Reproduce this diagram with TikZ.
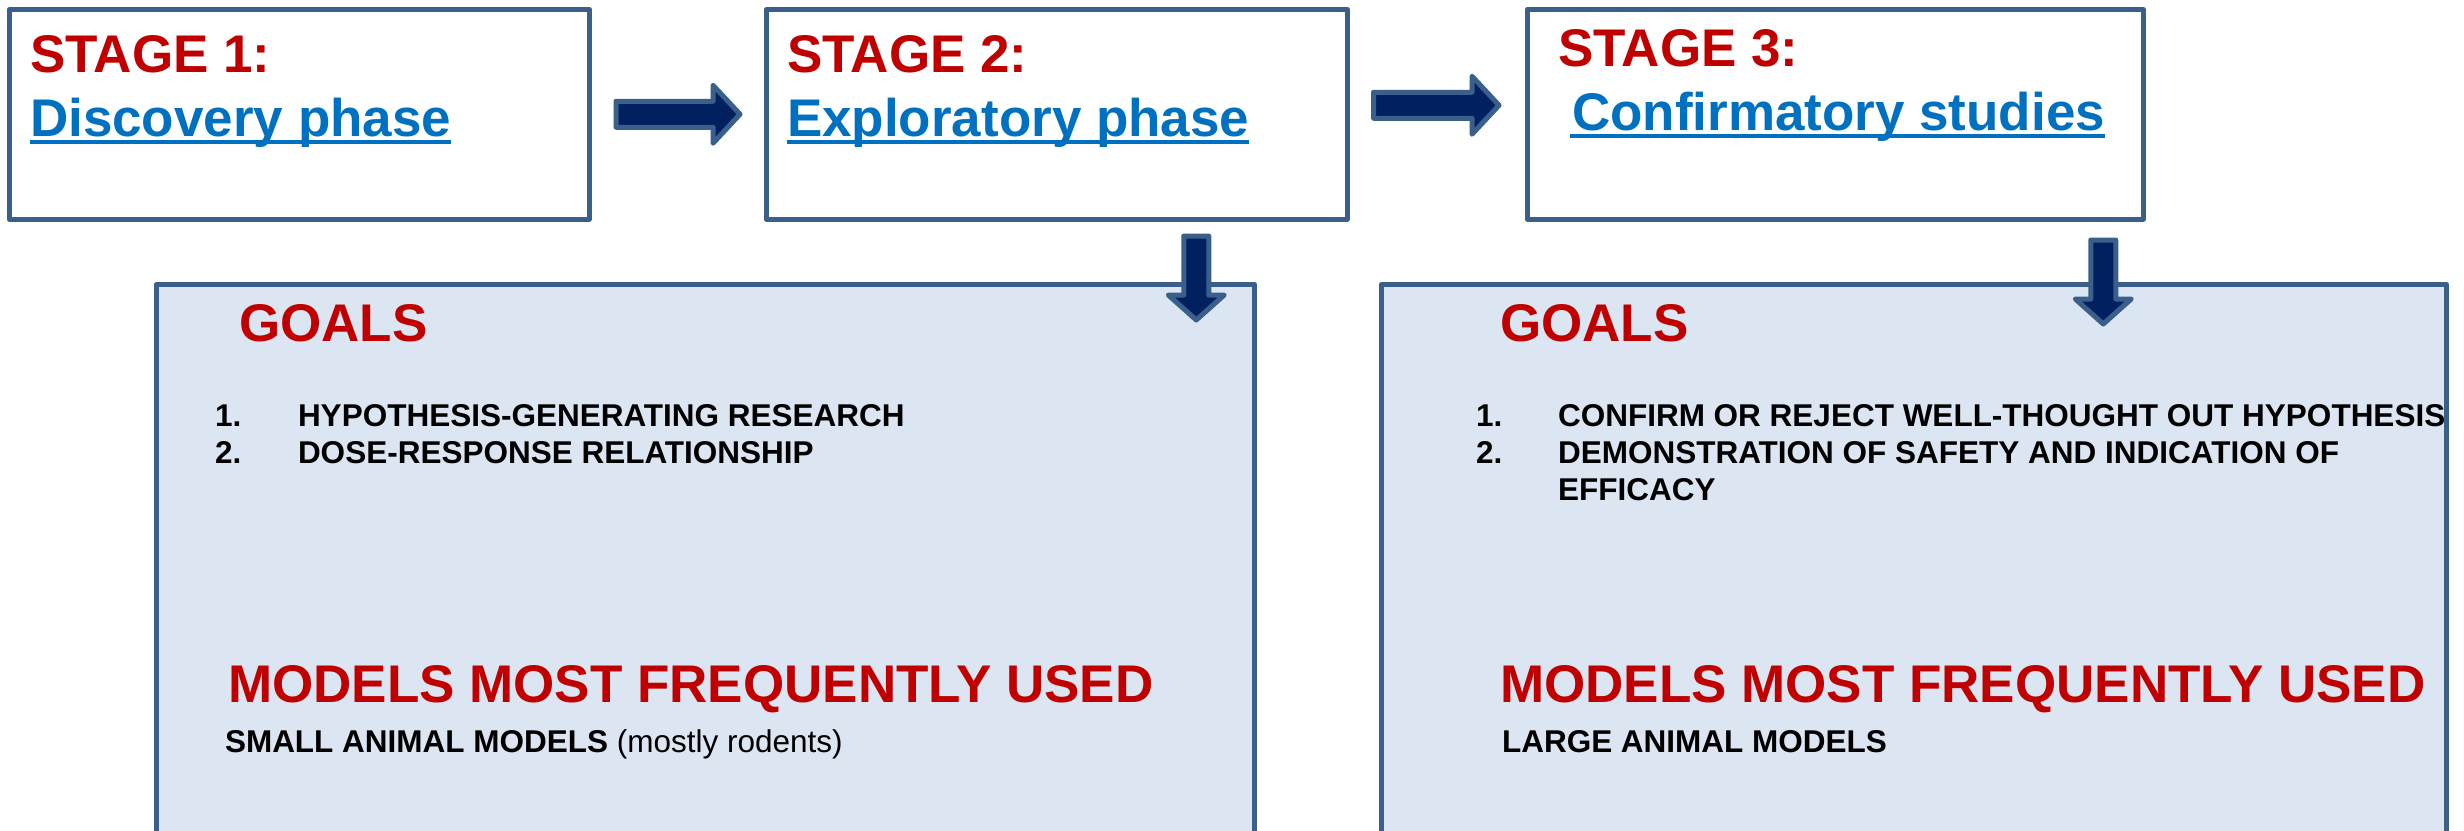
\documentclass[tikz,border=0pt]{standalone}
\usepackage{fontspec}
\setmainfont{Liberation Sans}
\usetikzlibrary{calc}
\definecolor{edge}{HTML}{3A5F8B}
\definecolor{navy}{HTML}{002060}
\definecolor{hred}{HTML}{C00000}
\definecolor{hblue}{HTML}{0070C0}
\definecolor{pale}{HTML}{DCE6F2}
\begin{document}
\begin{tikzpicture}[x=1pt,y=-1pt,
  stagebox/.style={draw=edge, line width=4.5pt, fill=white, line join=round, inner sep=0pt, anchor=north west},
  goalbox/.style={draw=edge, line width=4.5pt, fill=pale, line join=round, inner sep=0pt, anchor=north west},
  blockarrow/.style={draw=edge, line width=5pt, fill=navy, line join=round},
  txt/.style={anchor=base west, inner sep=0pt, outer sep=0pt},
  big/.style={txt, font=\fontsize{53}{60}\selectfont\bfseries, text=hred},
  link/.style={txt, font=\fontsize{53}{60}\selectfont\bfseries, text=hblue},
  small/.style={txt, font=\fontsize{31.5}{37}\selectfont\bfseries, text=black},
  uline/.style={hblue, line width=4pt}
]
\useasboundingbox (0,0) rectangle (2464,830);
\clip (0,0) rectangle (2464,830);
\fill[white] (0,0) rectangle (2464,830);

% stage boxes
\node[stagebox, minimum width=580pt, minimum height=210pt] (s1) at (7,7) {};
\node[stagebox, minimum width=581pt, minimum height=210pt] (s2) at (764,7) {};
\node[stagebox, minimum width=616pt, minimum height=210pt] (s3) at (1525,7) {};

% goal boxes
\node[goalbox, minimum width=1098pt, minimum height=580pt] (g1) at (154,282) {};
\node[goalbox, minimum width=1065pt, minimum height=580pt] (g2) at (1379,282) {};

% right block arrows
\coordinate (a1s) at ($(s1.east)+(24.5,0)$);
\coordinate (a1e) at ($(s2.west)+(-24,0)$);
\draw[blockarrow] ($(a1s)+(0,-13)$) -- ($(a1e)+(-27,-13)$) -- ($(a1e)+(-27,-29)$) -- (a1e)
  -- ($(a1e)+(-27,29)$) -- ($(a1e)+(-27,13)$) -- ($(a1s)+(0,13)$) -- cycle;

\coordinate (a2s) at ($(s2.east)+(24,-9)$);
\coordinate (a2e) at ($(s3.west)+(-26,-9)$);
\draw[blockarrow] ($(a2s)+(0,-13)$) -- ($(a2e)+(-27,-13)$) -- ($(a2e)+(-27,-29)$) -- (a2e)
  -- ($(a2e)+(-27,29)$) -- ($(a2e)+(-27,13)$) -- ($(a2s)+(0,13)$) -- cycle;

% down block arrows
\coordinate (d1s) at ($(s2.south)+(139.5,14.5)$);
\coordinate (d1e) at ($(d1s)+(0,84)$);
\draw[blockarrow] ($(d1s)+(-12.5,0)$) -- ($(d1e)+(-12.5,-25)$) -- ($(d1e)+(-28,-25)$) -- (d1e)
  -- ($(d1e)+(28,-25)$) -- ($(d1e)+(12.5,-25)$) -- ($(d1s)+(12.5,0)$) -- cycle;

\coordinate (d2s) at ($(s3.south)+(268,18.5)$);
\coordinate (d2e) at ($(d2s)+(0,84)$);
\draw[blockarrow] ($(d2s)+(-12.5,0)$) -- ($(d2e)+(-12.5,-25)$) -- ($(d2e)+(-28,-25)$) -- (d2e)
  -- ($(d2e)+(28,-25)$) -- ($(d2e)+(12.5,-25)$) -- ($(d2s)+(12.5,0)$) -- cycle;

% stage texts
\node[big] (st1) at (30,72) {STAGE 1:};
\node[link] (ph1) at (30,136) {Discovery phase};
\draw[uline] ($(ph1.base west)+(0,6)$) -- ($(ph1.base east)+(0,6)$);

\node[big] (st2) at (787,72) {STAGE 2:};
\node[link] (ph2) at (787,136) {Exploratory phase};
\draw[uline] ($(ph2.base west)+(0,6)$) -- ($(ph2.base east)+(0,6)$);

\node[big] (st3) at (1558,66) {STAGE 3:};
\node[link] (ph3) at (1572,130) {Confirmatory studies};
\draw[uline] ($(ph3.base west)+(-2,6)$) -- ($(ph3.base east)+(0,6)$);

% goals box 1
\node[big] (go1) at (239,341) {GOALS};
\node[small] (n11) at (215,426) {1.};
\node[small] (t11) at (298,426) {HYPOTHESIS-GENERATING RESEARCH};
\node[small] (n12) at (215,463) {2.};
\node[small] (t12) at (298,463) {DOSE-RESPONSE RELATIONSHIP};
\node[big] (mo1) at (228,702) {MODELS MOST FREQUENTLY USED};
\node[small] (an1) at (225,752) {SMALL ANIMAL MODELS {\mdseries (mostly rodents)}};

% goals box 2
\node[big] (go2) at (1500,341) {GOALS};
\node[small] (n21) at (1476,426) {1.};
\node[small] (t21) at (1558,426) {CONFIRM OR REJECT WELL-THOUGHT OUT HYPOTHESIS};
\node[small] (n22) at (1476,463) {2.};
\node[small] (t22) at (1558,463) {DEMONSTRATION OF SAFETY AND INDICATION OF};
\node[small] (t23) at (1558,500) {EFFICACY};
\node[big] (mo2) at (1500,702) {MODELS MOST FREQUENTLY USED};
\node[small] (an2) at (1502,752) {LARGE ANIMAL MODELS};
\end{tikzpicture}
\end{document}
